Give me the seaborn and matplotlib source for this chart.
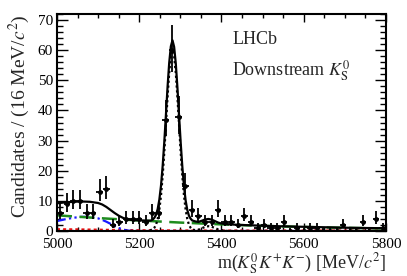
import numpy as np
import matplotlib
matplotlib.use('Agg')
import matplotlib.pyplot as plt
from matplotlib.ticker import MultipleLocator
import seaborn as sns

# data points: bin centres (16 MeV bins) and counts
bin_centres = np.arange(5008, 5800, 16)
counts = [6, 9, 10, 10, 6, 6, 13, 14, 2, 3,
          4, 4, 4, 3, 6, 6, 37, 60, 38, 15,
          7, 5, 3, 3, 7, 3, 3, 2, 5, 3,
          1, 2, 1, 1, 3, 0, 1, 0, 1, 1,
          0, 0, 0, 2, 0, 0, 3, 0, 4, 1]

# total fit (solid black)
tot_x = [5000, 5020, 5040, 5060, 5080, 5100, 5110, 5120, 5130, 5140,
         5150, 5160, 5170, 5180, 5190, 5200, 5210, 5220, 5228,
         5233, 5237, 5241, 5245, 5249, 5253, 5257, 5261, 5265, 5269,
         5273, 5277, 5281, 5285, 5289, 5293, 5297, 5301, 5305, 5309,
         5313, 5317, 5321, 5325, 5329, 5336, 5344, 5352, 5360, 5368,
         5376, 5384, 5392, 5400, 5410, 5420, 5450, 5500, 5550, 5600,
         5650, 5700, 5750, 5800]
tot_y = [9.2, 9.5, 9.7, 9.8, 9.7, 9.3, 8.8, 8.0, 7.0, 6.0,
         5.1, 4.4, 3.9, 3.7, 3.6, 3.55, 3.5, 3.45, 3.45,
         3.8, 4.4, 5.4, 7.3, 10.4, 15.0, 21.4, 29.4, 38.5, 47.8,
         55.8, 61.3, 63.3, 61.1, 55.6, 47.6, 38.3, 29.2, 21.2, 14.8,
         10.1, 7.0, 5.1, 4.1, 3.5, 3.2, 3.0, 3.4, 3.8, 4.0,
         3.8, 3.3, 2.8, 2.5, 2.3, 2.2, 2.0, 1.75, 1.55, 1.4,
         1.25, 1.1, 1.0, 0.9]

# signal B0 and Bs (dotted black)
sig_x = [5000, 5220, 5233, 5237, 5241, 5245, 5249, 5253, 5257, 5261,
         5265, 5269, 5273, 5277, 5281, 5285, 5289, 5293, 5297, 5301,
         5305, 5309, 5313, 5317, 5321, 5325, 5329, 5336, 5344, 5352,
         5360, 5368, 5376, 5384, 5392, 5400, 5410, 5420, 5800]
sig_y = [0, 0, 0.5, 1.1, 2.1, 4.0, 7.1, 11.7, 18.1, 26.1,
         35.2, 44.5, 52.5, 58.0, 60.0, 58.0, 52.5, 44.5, 35.2, 26.1,
         18.1, 11.7, 7.1, 4.0, 2.1, 1.1, 0.5, 0.3, 0.45, 0.9,
         1.35, 1.6, 1.45, 1.0, 0.55, 0.25, 0.05, 0, 0]

# combinatorial (green dashed)
comb_x = [5000, 5100, 5200, 5300, 5400, 5500, 5600, 5700, 5800]
comb_y = [5.2, 4.3, 3.5, 2.8, 2.2, 1.7, 1.35, 1.05, 0.85]

# partially reconstructed (blue dash-dot)
part_x = [5000, 5020, 5040, 5060, 5080, 5100, 5110, 5120, 5130, 5140,
          5150, 5160, 5170, 5180, 5200, 5800]
part_y = [3.3, 3.9, 4.4, 4.7, 4.7, 4.2, 3.7, 3.1, 2.4, 1.7,
          1.0, 0.5, 0.2, 0.05, 0.0, 0.0]

# cross-feed (red dotted)
xf_x = [5000, 5050, 5100, 5150, 5200, 5300, 5400, 5800]
xf_y = [0.45, 0.4, 0.3, 0.2, 0.12, 0.05, 0.02, 0.0]

sns.set_theme(style='ticks')
plt.rcParams['font.family'] = ['Liberation Serif', 'DejaVu Serif']
plt.rcParams['mathtext.fontset'] = 'stix'

fig = plt.figure(figsize=(4.07, 2.76), dpi=100)
ax = fig.add_axes([0.140, 0.163, 0.808, 0.786])

sns.lineplot(x=xf_x, y=xf_y, ax=ax, color='#ee1111', lw=2.2, linestyle=(0, (1, 1)))
sns.lineplot(x=part_x, y=part_y, ax=ax, color='#1a1aff', lw=1.6,
             linestyle=(0, (4, 1.5, 1, 1.5, 1, 1.5)))
sns.lineplot(x=comb_x, y=comb_y, ax=ax, color='#1e8c1e', lw=1.8, linestyle=(0, (6, 3)))
sns.lineplot(x=sig_x, y=sig_y, ax=ax, color='black', lw=1.6, linestyle=(0, (1, 1.2)))
sns.lineplot(x=tot_x, y=tot_y, ax=ax, color='black', lw=1.6)

n = np.array(counts, dtype=float)
err_lo = np.sqrt(n + 0.25) - 0.5
err_hi = np.sqrt(n + 0.25) + 0.5
ax.errorbar(bin_centres, n, yerr=[err_lo, err_hi], xerr=8, fmt='none',
            ecolor='black', elinewidth=1.3, capsize=0, zorder=5)
sns.scatterplot(x=bin_centres, y=counts, ax=ax, color='black', s=10,
                marker='o', edgecolor='black', zorder=6)

ax.set_xlim(5000, 5800)
ax.set_ylim(0, 72)
ax.xaxis.set_major_locator(MultipleLocator(200))
ax.xaxis.set_minor_locator(MultipleLocator(50))
ax.yaxis.set_major_locator(MultipleLocator(10))
ax.yaxis.set_minor_locator(MultipleLocator(2))
ax.tick_params(which='both', direction='in', top=True, right=True,
               labelsize=11, width=1.0, colors='black')
ax.tick_params(axis='x', which='major', length=6, pad=5)
ax.tick_params(axis='x', which='minor', length=3)
ax.tick_params(axis='y', which='major', length=8, pad=3)
ax.tick_params(axis='y', which='minor', length=4)
for s in ax.spines.values():
    s.set_linewidth(1.5)
    s.set_color('black')

ax.set_xlabel(r'm($K^0_{\rm S}K^{+}K^{-}$) [MeV/$c^2$]', fontsize=13,
              loc='right', labelpad=0)
ax.set_ylabel(r'Candidates / (16 MeV/$c^2$)', fontsize=14, loc='top', labelpad=4)

ax.text(5426, 63.4, 'LHCb', fontsize=13, va='center', ha='left')
ax.text(5426, 53.4, r'Downstream $K^0_{\rm S}$', fontsize=13, va='center', ha='left')

fig.savefig('out.png', dpi=100)
